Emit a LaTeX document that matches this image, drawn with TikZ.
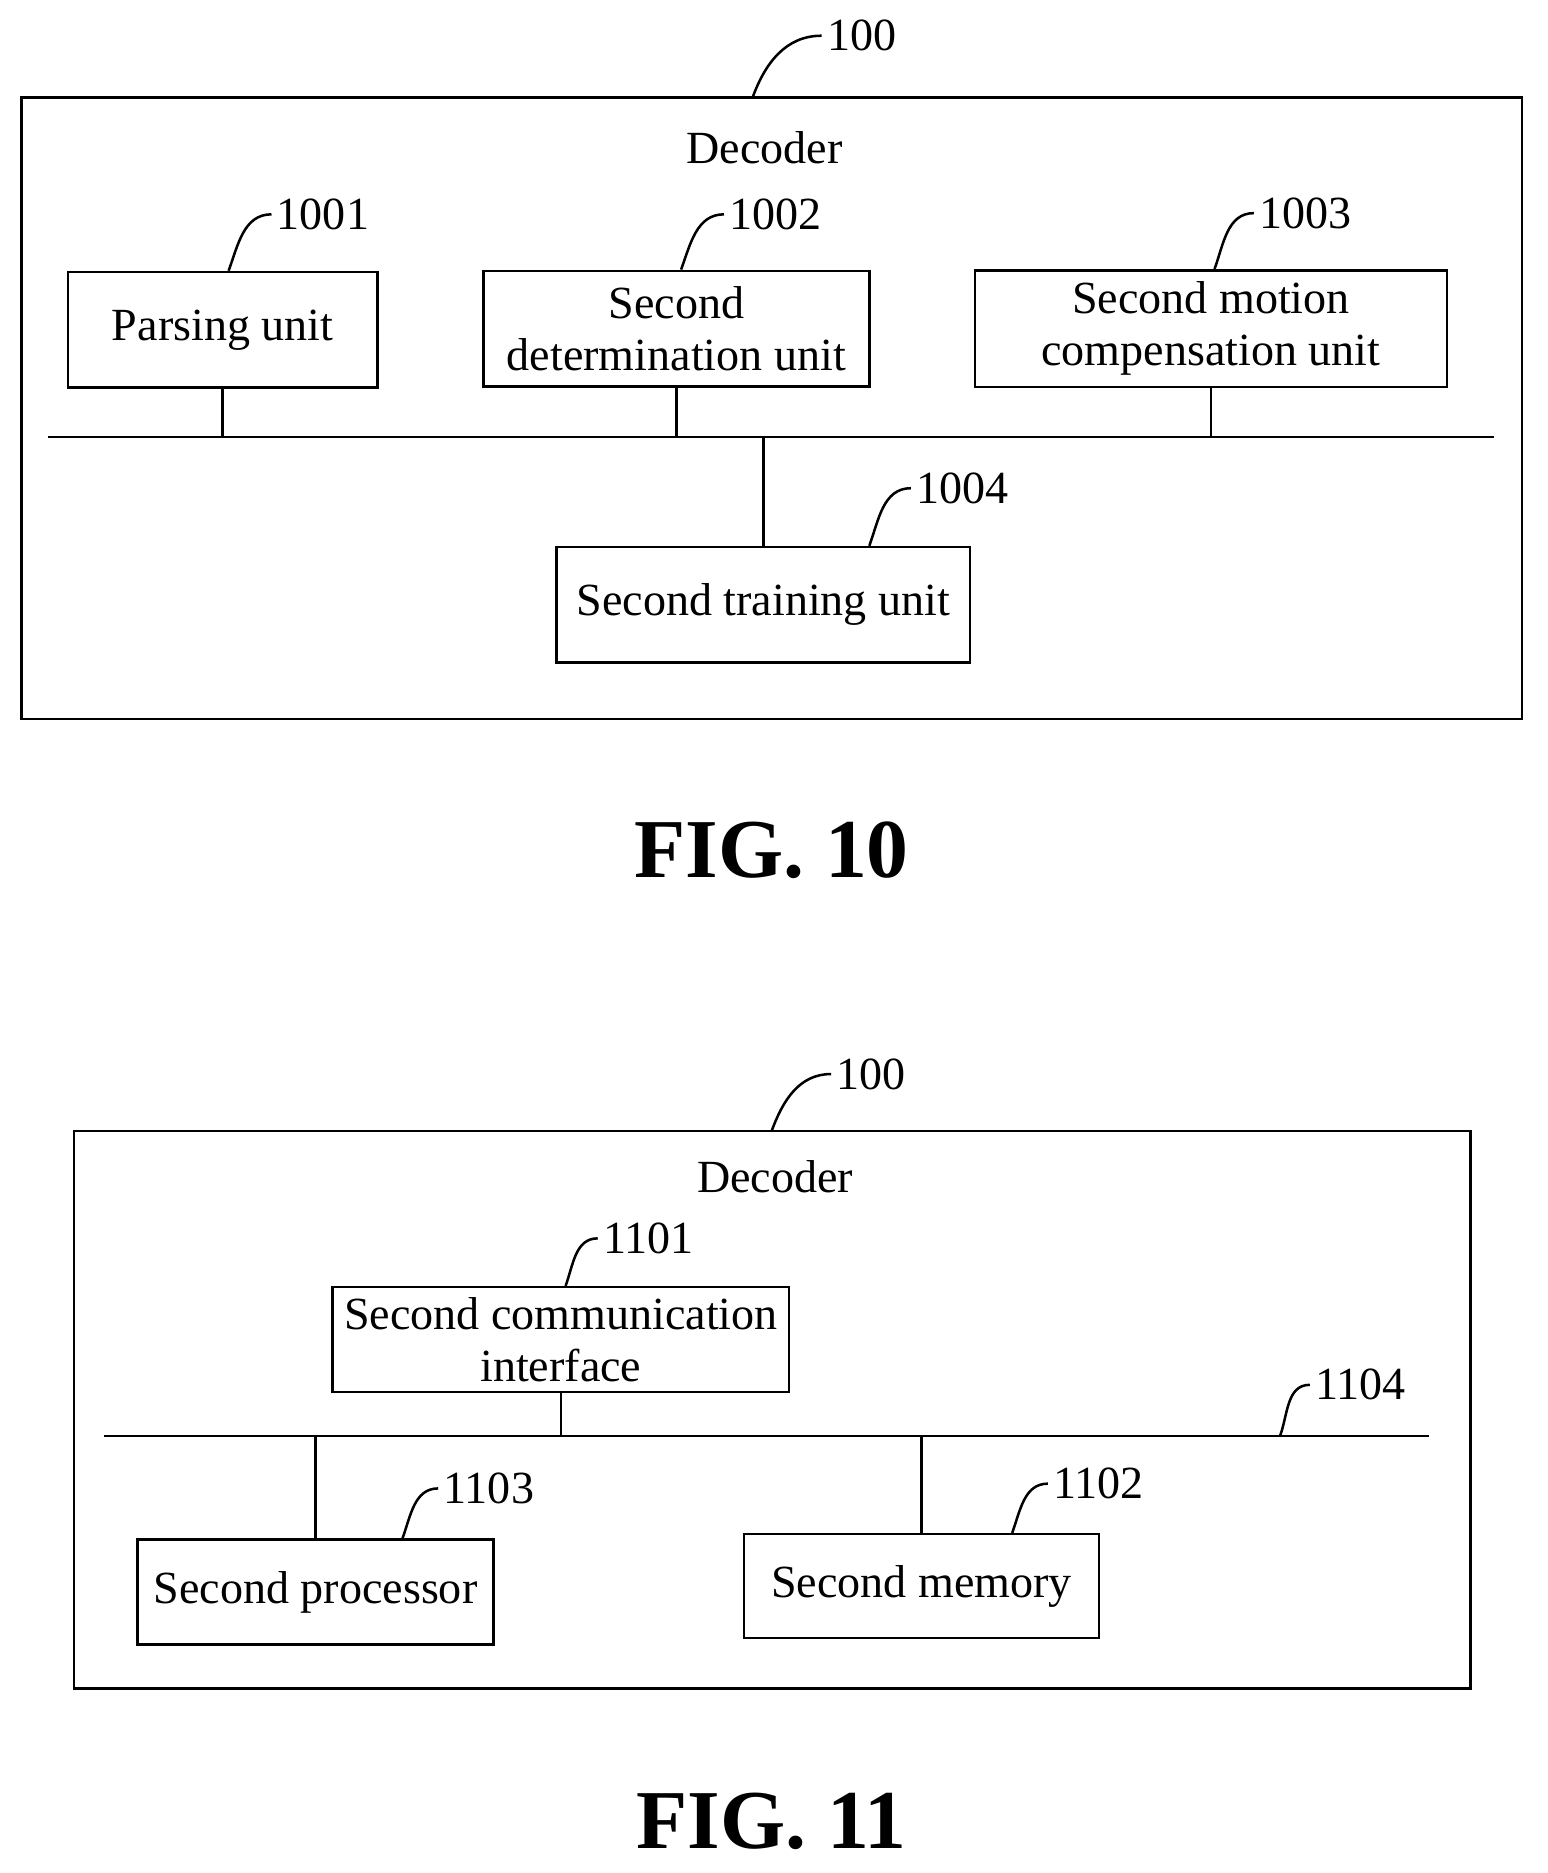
\documentclass[tikz,border=0pt]{standalone}
\usepackage{fontspec}
\setmainfont{Liberation Serif}
\begin{document}
\begin{tikzpicture}[
    x=0.01cm, y=-0.01cm,
    line width=0.6pt,
    font=\fontsize{11}{12.5}\selectfont,
    unit/.style = {
      draw,
      rectangle,
      align=center,
      inner sep = 0pt
    },
    tag/.style = {anchor=west, inner sep=1pt},
    lead/.style = {out=70, in=180},
    fig/.style = {font=\fontsize{20}{22}\selectfont\bfseries}
  ]
  \useasboundingbox (0,0) rectangle (1300,1573);

  % FIG. 10
  \draw (18,82) rectangle (1278,604);
  \node (dec1) at (642,124) {Decoder};
  \coordinate (top1) at (632,82);
  \node[tag] (n100a) at (690,30) {100};
  \draw (top1) to[lead] (n100a.west);

  \node[unit, minimum width=2.6cm, minimum height=0.97cm] (parse) at (187,277) {Parsing unit};
  \node[unit, minimum width=3.24cm, minimum height=0.97cm] (det) at (568,276) {Second\\determination unit};
  \node[unit, minimum width=3.96cm, minimum height=0.98cm] (mc) at (1017,276) {Second motion\\compensation unit};
  \node[unit, minimum width=3.47cm, minimum height=0.97cm] (train) at (641,508) {Second training unit};

  \coordinate (busA) at (40,367);
  \coordinate (busB) at (1255,367);
  \draw (busA) -- (busB);
  \draw (parse.south) -- (parse.south |- busA);
  \draw (det.south) -- (det.south |- busA);
  \draw (mc.south) -- (mc.south |- busA);
  \draw (train.north) -- (train.north |- busA);

  \node[tag] (n1001) at (228,180) {1001};
  \node[tag] (n1002) at (608,180) {1002};
  \node[tag] (n1003) at (1053,179) {1003};
  \node[tag] (n1004) at (765,410) {1004};
  \draw ([xshift=0.05cm]parse.north) to[lead] (n1001.west);
  \draw ([xshift=0.04cm]det.north) to[lead] (n1002.west);
  \draw ([xshift=0.03cm]mc.north) to[lead] (n1003.west);
  \draw ([xshift=0.89cm]train.north) to[lead] (n1004.west);

  \node[fig] (fig10) at (648,714) {FIG. 10};

  % FIG. 11
  \draw (62,950) rectangle (1235,1418);
  \node (dec2) at (651,988) {Decoder};
  \coordinate (top2) at (648,950);
  \node[tag] (n100b) at (698,902) {100};
  \draw (top2) to[lead] (n100b.west);

  \node[unit, minimum width=3.83cm, minimum height=0.88cm] (comm) at (471,1125) {Second communication\\interface};
  \node[unit, minimum width=2.99cm, minimum height=0.88cm] (proc) at (265,1337) {Second processor};
  \node[unit, minimum width=2.98cm, minimum height=0.87cm] (mem) at (774,1332) {Second memory};

  \coordinate (busC) at (87,1206);
  \coordinate (busD) at (1200,1206);
  \coordinate (bus4) at (1075,1206);
  \draw (busC) -- (busD);
  \draw (comm.south) -- (comm.south |- busC);
  \draw (proc.north) -- (proc.north |- busC);
  \draw (mem.north) -- (mem.north |- busC);

  \node[tag] (n1101) at (502,1040) {1101};
  \node[tag] (n1104) at (1100,1163) {1104};
  \node[tag] (n1103) at (368,1250) {1103};
  \node[tag] (n1102) at (880,1246) {1102};
  \draw ([xshift=0.04cm]comm.north) to[lead] (n1101.west);
  \draw (bus4) to[lead] (n1104.west);
  \draw ([xshift=0.73cm]proc.north) to[lead] (n1103.west);
  \draw ([xshift=0.76cm]mem.north) to[lead] (n1102.west);

  \node[fig] (fig11) at (648,1530) {FIG. 11};
\end{tikzpicture}
\end{document}
